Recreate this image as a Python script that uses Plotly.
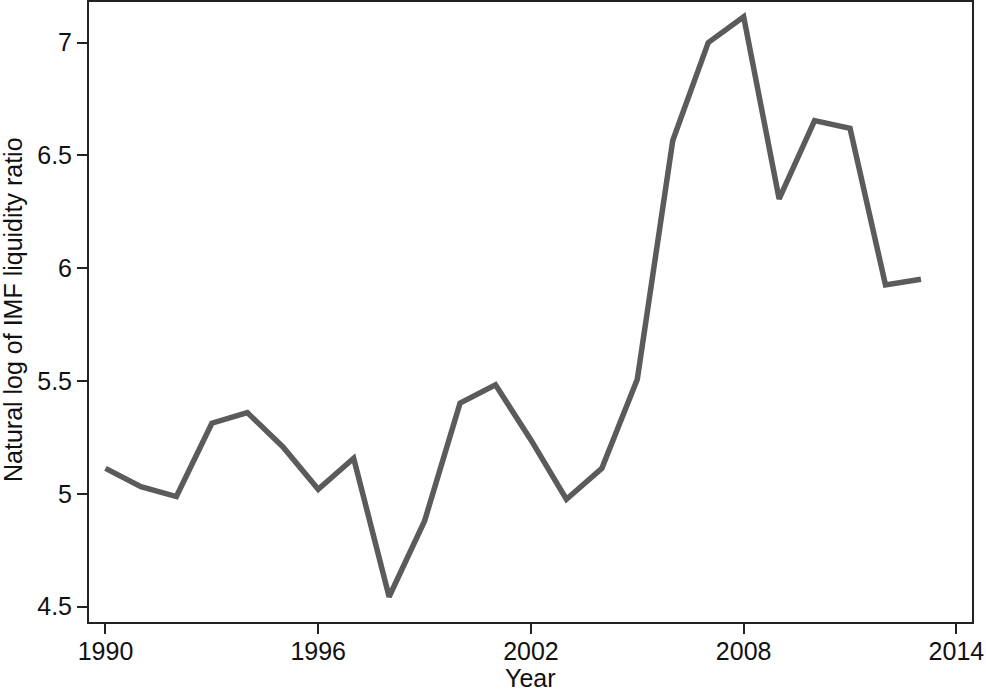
import plotly.graph_objects as go

years = list(range(1990, 2014))
log_liquidity = [5.113, 5.032, 4.988, 5.313, 5.360, 5.209, 5.020, 5.158, 4.544, 4.880,
                 5.402, 5.483, 5.239, 4.976, 5.113, 5.508, 6.566, 7.000, 7.115, 6.307,
                 6.654, 6.620, 5.926, 5.951]
x_ticks = [1990, 1996, 2002, 2008, 2014]
y_ticks = [4.5, 5, 5.5, 6, 6.5, 7]
y_tick_labels = ["4.5", "5", "5.5", "6", "6.5", "7"]
x_title = "Year"
y_title = "Natural log of IMF liquidity ratio"

fig = go.Figure()
fig.add_trace(go.Scatter(x=years, y=log_liquidity, mode="lines",
                         line=dict(color="#5b5b5b", width=5.5), showlegend=False))

font = dict(family="Liberation Sans, Arial, sans-serif", size=25, color="#111111")
title_font = dict(family="Liberation Sans, Arial, sans-serif", size=24, color="#111111")

W, H = 986, 691
ml, mr, mt, mb = 89, 14, 2, 69
pw, ph = W - ml - mr, H - mt - mb

fig.update_layout(
    width=W, height=H,
    margin=dict(l=ml, r=mr, t=mt, b=mb, autoexpand=False),
    paper_bgcolor="white", plot_bgcolor="white",
    font=font,
    annotations=[
        dict(text=x_title, xref="paper", yref="paper", x=0.5,
             y=(H - mb - 678) / ph, xanchor="center", yanchor="middle",
             showarrow=False, font=font),
        dict(text=y_title, xref="paper", yref="paper", x=(13 - ml) / pw,
             y=0.5 + (2 / ph), xanchor="center", yanchor="middle", textangle=-90,
             showarrow=False, font=font),
    ],
)
fig.update_xaxes(
    range=[1989.535, 2014.44], tickvals=x_ticks, ticks="outside", ticklen=10,
    tickwidth=1.5, tickcolor="#222", showline=True, linecolor="#222", linewidth=2,
    mirror=True, showgrid=False, zeroline=False, automargin=False,
    ticklabelstandoff=-4,
)
fig.update_yaxes(
    range=[4.432, 7.18], tickvals=y_ticks, ticktext=y_tick_labels, ticks="outside",
    ticklen=10, tickwidth=1.5, tickcolor="#222", showline=True, linecolor="#222",
    linewidth=2, mirror=True, showgrid=False, zeroline=False, automargin=False,
)
fig.write_html("out.html", config={"displayModeBar": False},
               post_script="document.body.style.margin='0';document.body.style.padding='0';")
